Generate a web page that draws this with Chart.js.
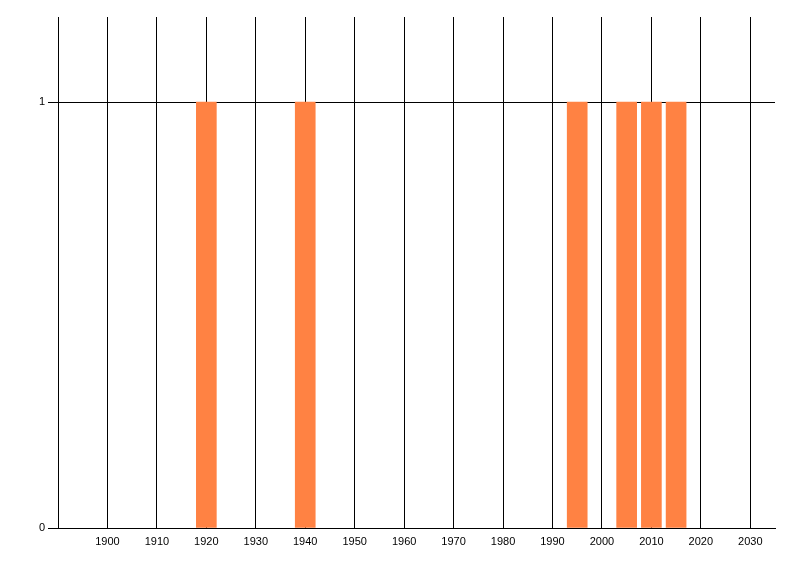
<!DOCTYPE html>
<html lang="en">
<head>
    <meta charset="UTF-8">
    <title>Year Chart</title>
    <script src="https://cdn.jsdelivr.net/npm/chart.js"></script>
    <style>
        html, body { margin: 0; padding: 0; background: #ffffff; }
        #wrap { width: 800px; height: 576px; }
    </style>
</head>
<body>
    <div id="wrap"><canvas id="yearChart" width="800" height="576"></canvas></div>
    <script>
        // values
        const years = [1920, 1940, 1995, 2005, 2010, 2015];
        const counts = [1, 1, 1, 1, 1, 1];
        const yTicks = [0, 1];

        const ctx = document.getElementById('yearChart').getContext('2d');
        new Chart(ctx, {
            type: 'bar',
            data: {
                datasets: [{
                    label: 'Count',
                    data: years.map((yr, i) => ({ x: yr, y: counts[i] })),
                    backgroundColor: 'rgb(255, 130, 67)',
                    borderWidth: 0,
                    barThickness: 20
                }]
            },
            options: {
                responsive: false,
                animation: false,
                layout: { padding: { top: 17, right: 25, left: 0, bottom: 0 } },
                plugins: {
                    legend: { display: false },
                    tooltip: { enabled: false }
                },
                scales: {
                    x: {
                        type: 'linear',
                        min: 1890,
                        max: 2035,
                        offset: false,
                        grid: { color: '#000000', lineWidth: 1, drawTicks: false, offset: false },
                        border: { color: '#000000', width: 1 },
                        ticks: {
                            stepSize: 10,
                            includeBounds: false,
                            padding: 7,
                            color: '#000000',
                            font: { family: 'Liberation Sans', size: 11 },
                            maxRotation: 0,
                            autoSkip: false,
                            callback: v => (v === 1890 ? '' : String(v))
                        },
                        afterFit: s => { s.height = 48; }
                    },
                    y: {
                        min: 0,
                        max: 1.2,
                        grid: { color: '#000000', lineWidth: 1, tickLength: 10 },
                        border: { color: '#000000', width: 1 },
                        afterBuildTicks: s => { s.ticks = yTicks.map(v => ({ value: v })); },
                        ticks: {
                            padding: 3,
                            color: '#000000',
                            font: { family: 'Liberation Sans', size: 11 }
                        },
                        afterFit: s => { s.width = 58; }
                    }
                }
            }
        });
    </script>
</body>
</html>
